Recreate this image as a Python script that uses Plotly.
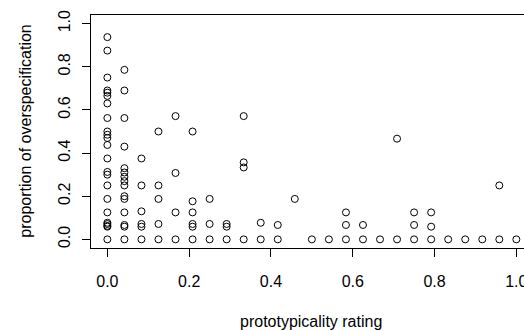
import plotly.graph_objects as go

# prototypicality rating levels (k/24) and observed proportions of overspecification at each level
ratings = [k / 24 for k in range(25)]
proportions = [
    [0.9375, 0.875, 0.75, 0.69, 0.68, 0.665, 0.63, 0.5625, 0.5, 0.485, 0.47, 0.4375, 0.375,
     0.3125, 0.3, 0.25, 0.1875, 0.125, 0.077, 0.071, 0.0625, 0.0588, 0.0],
    [0.7857, 0.69, 0.5625, 0.43, 0.33, 0.31, 0.29, 0.27, 0.25, 0.2, 0.1875, 0.125, 0.0667, 0.0588, 0.0],
    [0.375, 0.25, 0.13, 0.0714, 0.0588, 0.0],
    [0.5, 0.25, 0.1875, 0.0714, 0.0],
    [0.5714, 0.3077, 0.125, 0.0],
    [0.5, 0.1765, 0.125, 0.0714, 0.0588, 0.0],
    [0.1875, 0.0714, 0.0],
    [0.0714, 0.0588, 0.0],
    [0.5714, 0.3571, 0.3333, 0.0],
    [0.0769, 0.0],
    [0.0667, 0.0],
    [0.1875],
    [0.0],
    [0.0],
    [0.125, 0.0667, 0.0],
    [0.0667, 0.0],
    [0.0],
    [0.4667, 0.0],
    [0.125, 0.0667, 0.0],
    [0.125, 0.0588, 0.0],
    [0.0],
    [0.0],
    [0.0],
    [0.25, 0.0],
    [0.0],
]
tick_vals = [0.0, 0.2, 0.4, 0.6, 0.8, 1.0]
tick_text = ["0.0", "0.2", "0.4", "0.6", "0.8", "1.0"]

xs, ys = [], []
for r, col in zip(ratings, proportions):
    for p in col:
        xs.append(r)
        ys.append(p)

FONT = "Liberation Sans, Arial, sans-serif"

fig = go.Figure(go.Scatter(
    x=xs, y=ys, mode="markers",
    marker=dict(symbol="circle-open", size=7, color="black", line=dict(width=1, color="black")),
    hoverinfo="skip",
))

fig.update_layout(
    width=524, height=331,
    margin=dict(l=91, r=0, t=15, b=83),
    plot_bgcolor="white", paper_bgcolor="white",
    showlegend=False,
    font=dict(family=FONT, size=16, color="black"),
    xaxis=dict(
        range=[-0.04, 1.0187], showgrid=False, zeroline=False,
        showline=True, mirror=True, linecolor="black", linewidth=1,
        ticks="outside", ticklen=8, tickcolor="black", tickwidth=1,
        tickvals=tick_vals, ticktext=tick_text,
        ticklabelstandoff=11, ticklabeloverflow="allow", automargin=False,
    ),
    yaxis=dict(
        range=[-0.04, 1.04], showgrid=False, zeroline=False,
        showline=True, mirror=False, linecolor="black", linewidth=1,
        ticks="outside", ticklen=8, tickcolor="black", tickwidth=1,
        tickvals=tick_vals, ticktext=tick_text, tickangle=-90,
        ticklabelstandoff=6, automargin=False,
    ),
    annotations=[
        dict(text="prototypicality rating", x=0.5076, y=-0.317, xref="paper", yref="paper",
             showarrow=False, xanchor="center", yanchor="middle", font=dict(size=16)),
        dict(text="proportion of overspecification", x=-0.152, y=0.5, xref="paper", yref="paper",
             showarrow=False, xanchor="center", yanchor="middle", textangle=-90, font=dict(size=16)),
    ],
)

fig.write_html(
    "out.html",
    config={"displayModeBar": False},
    post_script="document.body.style.margin='0';document.body.style.overflow='hidden';",
)
